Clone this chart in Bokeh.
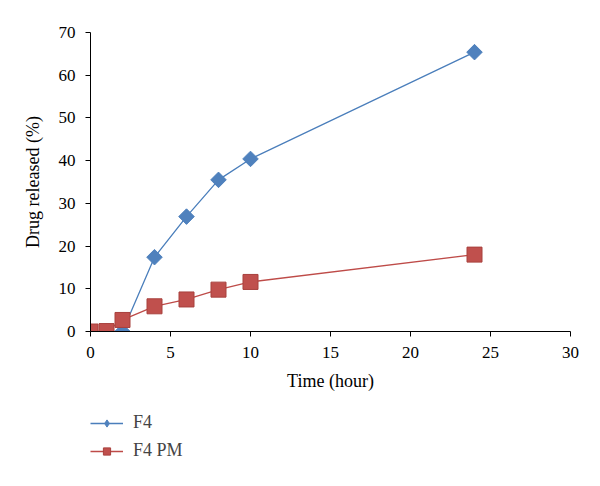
from bokeh.plotting import figure
from bokeh.models import Legend, LegendItem, Range1d, FixedTicker
from bokeh.layouts import column
from bokeh.embed import file_html
from bokeh.resources import INLINE

time_h = [0, 1, 2, 4, 6, 8, 10, 24]
f4 = [0, 0, 0, 17.4, 26.9, 35.5, 40.4, 65.4]
f4_pm = [0, 0.1, 2.7, 5.9, 7.5, 9.8, 11.6, 18.0]
x_ticks = [0, 5, 10, 15, 20, 25, 30]
y_ticks = [0, 10, 20, 30, 40, 50, 60, 70]

BLUE_LINE = "#4a7ebb"
BLUE = "#4f81bd"
RED_LINE = "#be4b48"
RED = "#c0504d"
RED_EDGE = "#a8403d"
FONT = "Liberation Serif"


def draw_series(fig, diamond_marker, diamond_angle, diamond_size):
    l1 = fig.line(time_h, f4, line_color=BLUE_LINE, line_width=1.3)
    s1 = fig.scatter(time_h, f4, marker=diamond_marker, angle=diamond_angle,
                     size=diamond_size, fill_color=BLUE, line_color=BLUE)
    l2 = fig.line(time_h, f4_pm, line_color=RED_LINE, line_width=1.3)
    s2 = fig.scatter(time_h, f4_pm, marker="square", size=15,
                     fill_color=RED, line_color=RED_EDGE)
    return l1, s1, l2, s2


p = figure(width=600, height=400, output_backend="svg", toolbar_location=None,
           x_range=Range1d(0, 30), y_range=Range1d(0, 70),
           min_border_left=90, min_border_right=30, min_border_top=32, min_border_bottom=69)
p.outline_line_color = None
p.grid.visible = False

for ax in (p.xaxis[0], p.yaxis[0]):
    ax.axis_line_color = "black"
    ax.major_tick_line_color = "black"
    ax.major_tick_out = 5
    ax.major_tick_in = 0
    ax.minor_tick_line_color = None
    ax.major_label_text_font = FONT
    ax.major_label_text_font_size = "17px"
    ax.major_label_text_color = "black"
    ax.axis_label_text_font = FONT
    ax.axis_label_text_font_size = "18px"
    ax.axis_label_text_font_style = "normal"
    ax.axis_label_text_color = "black"

p.xaxis.ticker = FixedTicker(ticks=x_ticks)
p.yaxis.ticker = FixedTicker(ticks=y_ticks)
p.xaxis.axis_label = "Time (hour)"
p.yaxis.axis_label = "Drug released (%)"
p.xaxis.major_label_standoff = 10
p.yaxis.major_label_standoff = 10
p.xaxis.axis_label_standoff = 10
p.yaxis.axis_label_standoff = 13

draw_series(p, "square", 0.785398, 11)

# legend panel below the chart (series drawn off-range; only the legend is seen)
q = figure(width=600, height=86, output_backend="svg", toolbar_location=None,
           x_range=Range1d(100, 101), y_range=Range1d(100, 101),
           min_border=0, x_axis_location=None, y_axis_location=None)
q.outline_line_color = None
q.grid.visible = False
ql1, qs1, ql2, qs2 = draw_series(q, "diamond", 0, 15)

legend = Legend(items=[LegendItem(label="F4", renderers=[ql1, qs1]),
                       LegendItem(label="F4 PM", renderers=[ql2, qs2])],
                location=(0, 25), orientation="vertical",
                label_text_font=FONT, label_text_font_size="18px",
                glyph_width=33, glyph_height=18, spacing=7, padding=0, margin=0,
                border_line_color=None, background_fill_alpha=0, label_standoff=10)
q.add_layout(legend)

open("out.html", "w").write(file_html(column(p, q), INLINE))
